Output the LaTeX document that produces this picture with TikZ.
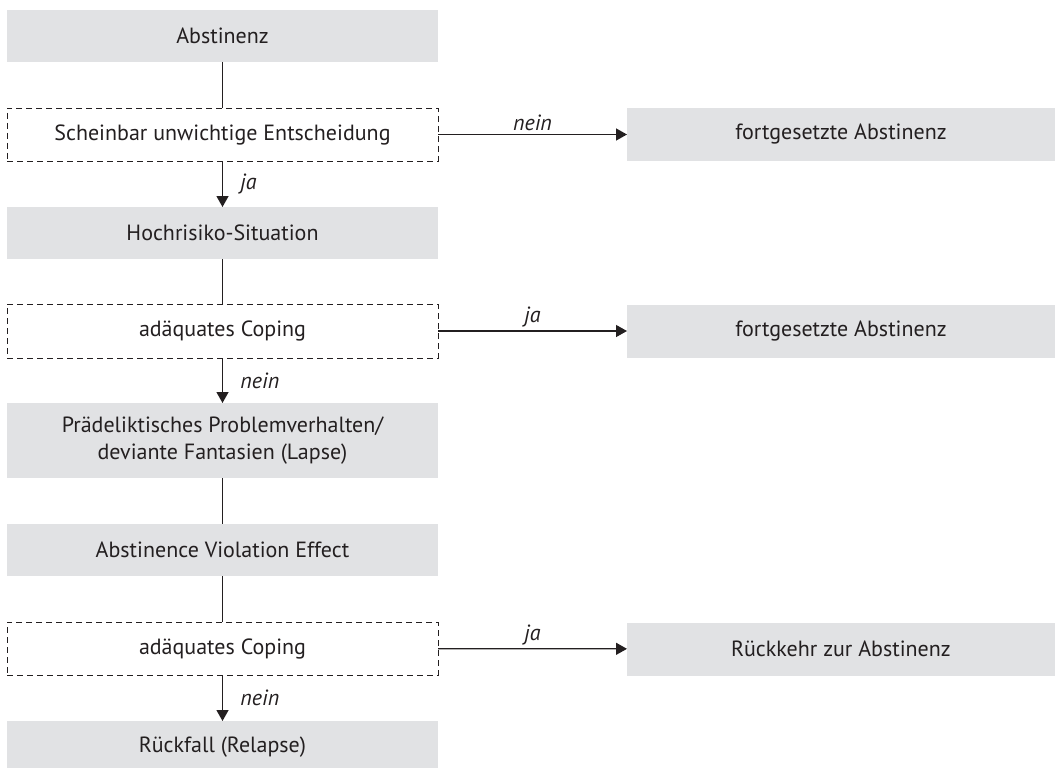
\documentclass[tikz,border=0pt]{standalone}
\usepackage{fontspec}
\setmainfont{PT Sans}
\usepackage{xcolor}
\usepackage{tikz}
\usetikzlibrary{arrows.meta}
\definecolor{boxgray}{RGB}{225,226,228}
\definecolor{inkdark}{RGB}{35,31,32}

\begin{document}
\begin{tikzpicture}[x=1pt, y=-1pt,
  font=\fontsize{22}{27}\selectfont, text=inkdark,
  stage/.style={fill=boxgray, minimum width=431pt, minimum height=52pt, inner sep=0pt, outer sep=0pt, align=center},
  query/.style={draw=inkdark, line width=1pt, dash pattern=on 6pt off 4pt, minimum width=431pt, minimum height=53pt, inner sep=0pt, outer sep=0pt},
  outcome/.style={fill=boxgray, minimum width=428pt, minimum height=53pt, inner sep=0pt, outer sep=0pt},
  flow/.style={draw=inkdark, line width=1.3pt},
  flowarrow/.style={flow, -{Triangle[length=11pt,width=12pt]}},
  answer/.style={font=\fontsize{22}{26}\selectfont\itshape}]
\useasboundingbox (0,0) rectangle (1055,768);

\node[stage] (abst) at (222.5,36) {Abstinenz};
\node[query] (decision) at (222.5,134.5) {Scheinbar unwichtige Entscheidung};
\node[stage] (risk) at (222.5,233) {Hochrisiko-Situation};
\node[query, minimum height=54pt] (coping_1) at (222.5,331) {adäquates Coping};
\node[stage, minimum height=75pt] (lapse) at (222.5,440.5) {Prädeliktisches Problemverhalten/\\deviante Fantasien (Lapse)};
\node[stage] (ave) at (222.5,550) {Abstinence Violation Effect};
\node[query] (coping_2) at (222.5,648.5) {adäquates Coping};
\node[stage] (relapse) at (222.5,747) {Rückfall (Relapse)};

\node[outcome] (cont_1) at (841,134.5) {fortgesetzte Abstinenz};
\node[outcome] (cont_2) at (841,331) {fortgesetzte Abstinenz};
\node[outcome] (back) at (841,649) {Rückkehr zur Abstinenz};

\draw[flow] (abst) -- (decision);
\draw[flowarrow] (decision) -- (risk)
    node[midway, right=14pt, answer] {ja};
\draw[flow] (risk) -- (coping_1);
\draw[flowarrow] (coping_1) -- (lapse)
    node[midway, right=14pt, answer] {nein};
\draw[flow] (lapse) -- (ave);
\draw[flow] (ave) -- (coping_2);
\draw[flowarrow] (coping_2) -- (relapse)
    node[midway, right=14pt, answer] {nein};

\draw[flowarrow] (decision) -- (cont_1)
    node[midway, above, answer] {nein};
\draw[flowarrow] (coping_1) -- (cont_2)
    node[midway, above, answer] {ja};
\draw[flowarrow] (coping_2) -- (back)
    node[midway, above, answer] {ja};

\end{tikzpicture}
\end{document}
